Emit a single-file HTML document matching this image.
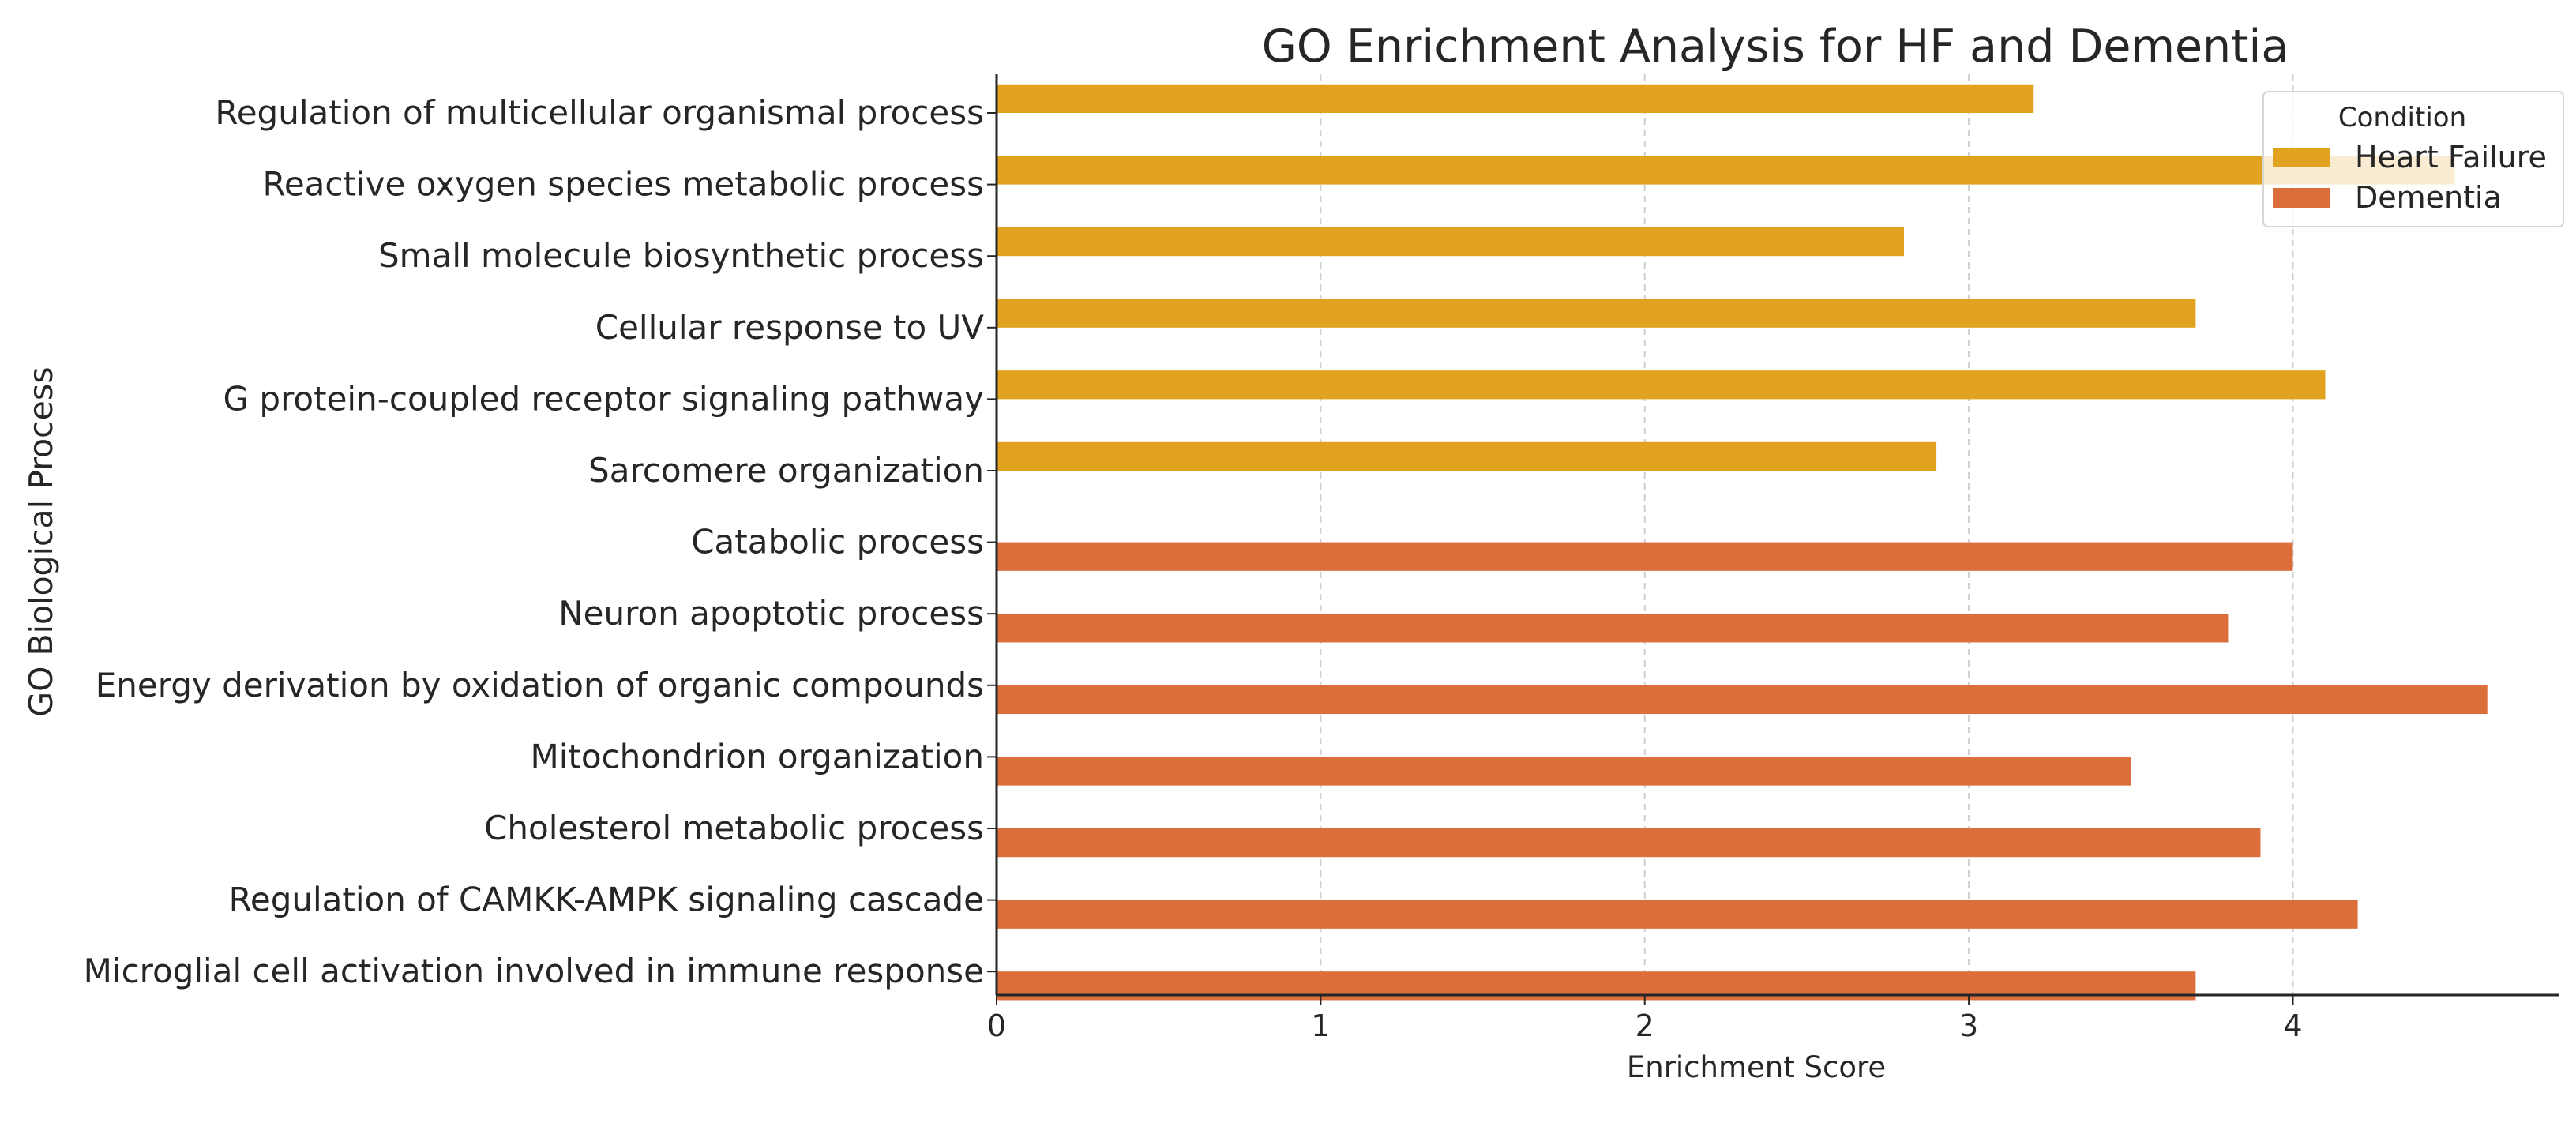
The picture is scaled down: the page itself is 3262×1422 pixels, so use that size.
<!DOCTYPE html>
<html><head><meta charset="utf-8"><style>
html,body{margin:0;padding:0;background:#fff;}
svg{display:block;font-family:"DejaVu Sans","Liberation Sans",sans-serif;}
</style></head><body>
<svg id="chart" width="3262" height="1422" viewBox="0 0 3262 1422">
<text x="2248" y="78" font-size="57" text-anchor="middle" fill="#262626">GO Enrichment Analysis for HF and Dementia</text>
<g id="grid"></g>
<g id="bars"></g>
<g id="axes"></g>
<text x="2224" y="1364" font-size="37" text-anchor="middle" fill="#262626">Enrichment Score</text>
<text transform="translate(66,686) rotate(-90)" font-size="41" text-anchor="middle" fill="#262626">GO Biological Process</text>
<g id="legend"></g>
</svg>
<script>
const categories = ["Regulation of multicellular organismal process","Reactive oxygen species metabolic process","Small molecule biosynthetic process","Cellular response to UV","G protein-coupled receptor signaling pathway","Sarcomere organization","Catabolic process","Neuron apoptotic process","Energy derivation by oxidation of organic compounds","Mitochondrion organization","Cholesterol metabolic process","Regulation of CAMKK-AMPK signaling cascade","Microglial cell activation involved in immune response"];
const heartFailure = [3.2,4.5,2.8,3.7,4.1,2.9,null,null,null,null,null,null,null];
const dementia = [null,null,null,null,null,null,4.0,3.8,4.6,3.5,3.9,4.2,3.7];
const xTicks = [0,1,2,3,4];
const xMax = 4.82;

const NS="http://www.w3.org/2000/svg";
const L=1262,R=3240,T=94,B=1260,Y0=143,STEP=90.6;
const xs=v=>L+(v/xMax)*(R-L);
const ys=i=>Y0+i*STEP;
const BH=STEP*0.4;
function mk(tag,attrs,parent){const e=document.createElementNS(NS,tag);for(const k in attrs)e.setAttribute(k,attrs[k]);parent.appendChild(e);return e;}
const grid=document.getElementById('grid'),bars=document.getElementById('bars'),axes=document.getElementById('axes'),legend=document.getElementById('legend');
xTicks.forEach(t=>{
  const g=mk('line',{x1:xs(t),x2:xs(t),y1:T,y2:B,stroke:'#cfcfcf','stroke-width':2,'stroke-dasharray':'8,6'},grid);
  
  
  const tk=mk('line',{x1:xs(t),x2:xs(t),y1:B,y2:B+12,stroke:'#262626','stroke-width':2},axes);
  
  
  const tl=mk('text',{x:xs(t),y:B+52,'font-size':38,'text-anchor':'middle',fill:'#262626'},axes);
  tl.textContent=t;
  
  
});
categories.forEach((c,i)=>{
  const y=ys(i);
  if(heartFailure[i]!=null){
    const r=mk('rect',{x:L,y:y-BH,width:xs(heartFailure[i])-L,height:BH,fill:'#E0A21F'},bars);
    
    
  }
  if(dementia[i]!=null){
    const r=mk('rect',{x:L,y:y,width:xs(dementia[i])-L,height:BH,fill:'#DB6E3A'},bars);
    
    
  }
  const tk=mk('line',{x1:L-12,x2:L,y1:y,y2:y,stroke:'#262626','stroke-width':2},axes);
  
  
  const tl=mk('text',{x:L-16,y:y+14,'font-size':42,'text-anchor':'end',fill:'#262626'},axes);
  tl.textContent=c;
  
  
});
const ax=mk('line',{x1:L,x2:L,y1:T,y2:B,stroke:'#262626','stroke-width':3},axes);


const bx=mk('line',{x1:L,x2:R,y1:B,y2:B,stroke:'#262626','stroke-width':3},axes);


// legend
const lb=mk('rect',{x:2866,y:116,width:380,height:171,rx:6,fill:'#fff','fill-opacity':0.8,stroke:'#d6d6d6','stroke-width':2},legend);


const lt=mk('text',{x:3042,y:160,'font-size':34,'text-anchor':'middle',fill:'#262626'},legend);
lt.textContent='Condition';


[['Heart Failure','#E0A21F',187],['Dementia','#DB6E3A',238]].forEach(([n,col,y])=>{
  const p=mk('rect',{x:2878,y:y,width:72,height:25,fill:col},legend);
  
  
  const t=mk('text',{x:2982,y:y+25,'font-size':38,fill:'#262626'},legend);
  t.textContent=n;
  
  
});
</script>
</body></html>
